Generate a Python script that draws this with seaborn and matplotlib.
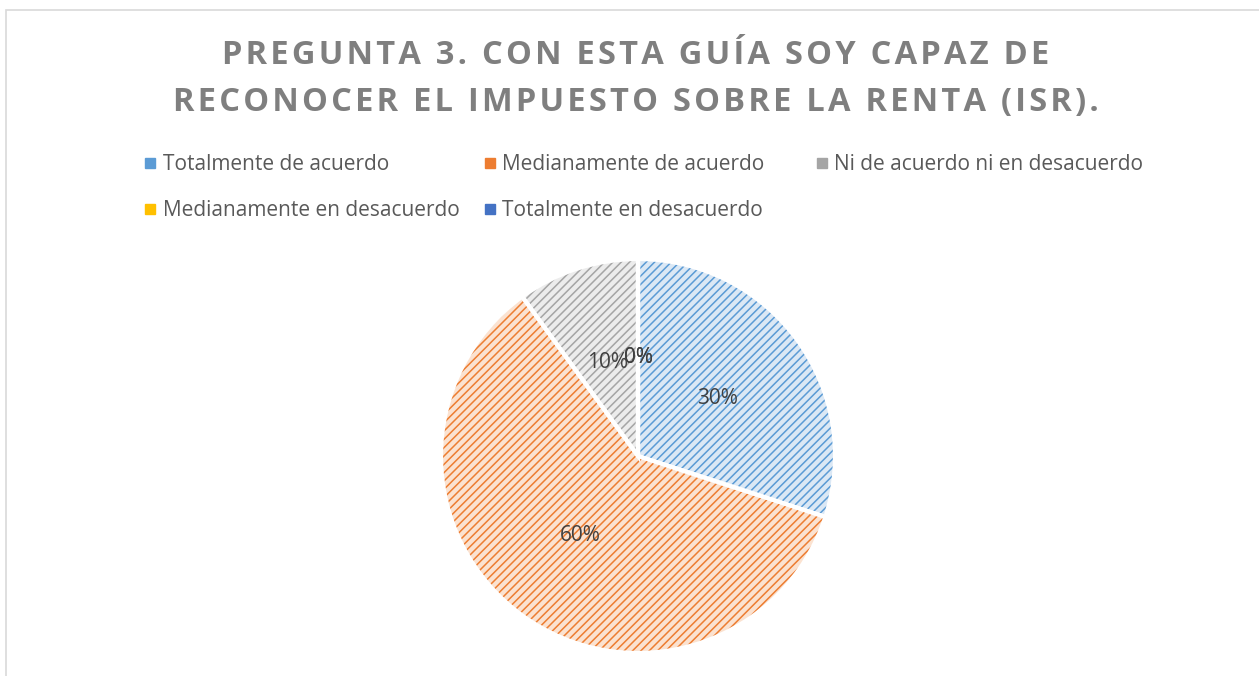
import matplotlib
matplotlib.use("Agg")
import matplotlib.pyplot as plt
import seaborn as sns
from matplotlib.lines import Line2D
from matplotlib.patches import Rectangle

categories = ["Totalmente de acuerdo", "Medianamente de acuerdo",
              "Ni de acuerdo ni en desacuerdo", "Medianamente en desacuerdo",
              "Totalmente en desacuerdo"]
values = [30, 60, 10, 0, 0]
line_colors = ["#5b9bd5", "#ed7d31", "#a5a5a5", "#ffc000", "#4472c4"]
fill_colors = ["#dbe8f5", "#fbe2d0", "#ececec", "#fff2cc", "#dae3f3"]
title_lines = ["PREGUNTA 3. CON ESTA GUÍA SOY CAPAZ DE",
               "RECONOCER EL IMPUESTO SOBRE LA RENTA (ISR)."]

sns.set_theme(style="white")
plt.rcParams["font.family"] = ["Open Sans", "DejaVu Sans"]
plt.rcParams["hatch.linewidth"] = 1.1

W, H = 1259, 676
fig = plt.figure(figsize=(W / 100, H / 100), dpi=100)

# chart border
fig.patches.append(Rectangle((6 / W, -0.01), 1.0, 1 - 10 / H + 0.01,
                             transform=fig.transFigure, fill=False,
                             edgecolor="#d9d9d9", linewidth=1.2))


def spaced(s):
    return "\u200a".join(s)


for i, line in enumerate(title_lines):
    fig.text(636 / W, 1 - (55 + 48 * i) / H, spaced(line), ha="center",
             va="center", fontsize=23.5, fontweight="bold", color="#7f7f7f")

cx, cy, r = 638, 456, 197
ax = fig.add_axes([(cx - r) / W, 1 - (cy + r) / H, 2 * r / W, 2 * r / H])

wedges, texts, autotexts = ax.pie(
    values, colors=fill_colors, startangle=90, counterclock=False,
    autopct="%1.0f%%", pctdistance=0.5,
    wedgeprops=dict(linewidth=0),
    textprops=dict(fontsize=15, color="#404040"))
for w, c in zip(wedges, line_colors):
    w.set_hatch("////")
    w.set_edgecolor(c)

# white separators
ax.pie(values, colors=["none"] * len(values), startangle=90, counterclock=False,
       wedgeprops=dict(linewidth=3, edgecolor="white", fill=False))
ax.set_xlim(-1.0, 1.0)
ax.set_ylim(-1.0, 1.0)

handles = [Line2D([0], [0], marker="s", linestyle="none", markersize=6.5,
                  markerfacecolor=c, markeredgecolor=c) for c in line_colors]
order = [0, 3, 1, 4, 2]
labels = [categories[i] for i in order]
labels[2] = labels[2] + "     "  # Excel gives the middle column extra room
fig.legend([handles[i] for i in order], labels,
           ncol=3, loc="center", bbox_to_anchor=(644 / W, 1 - 188 / H),
           frameon=False, fontsize=15, labelcolor="#595959",
           handlelength=0.5, handletextpad=0.35, columnspacing=1.2,
           labelspacing=1.2, borderpad=0)

fig.savefig("out.png", dpi=100, facecolor="white")
